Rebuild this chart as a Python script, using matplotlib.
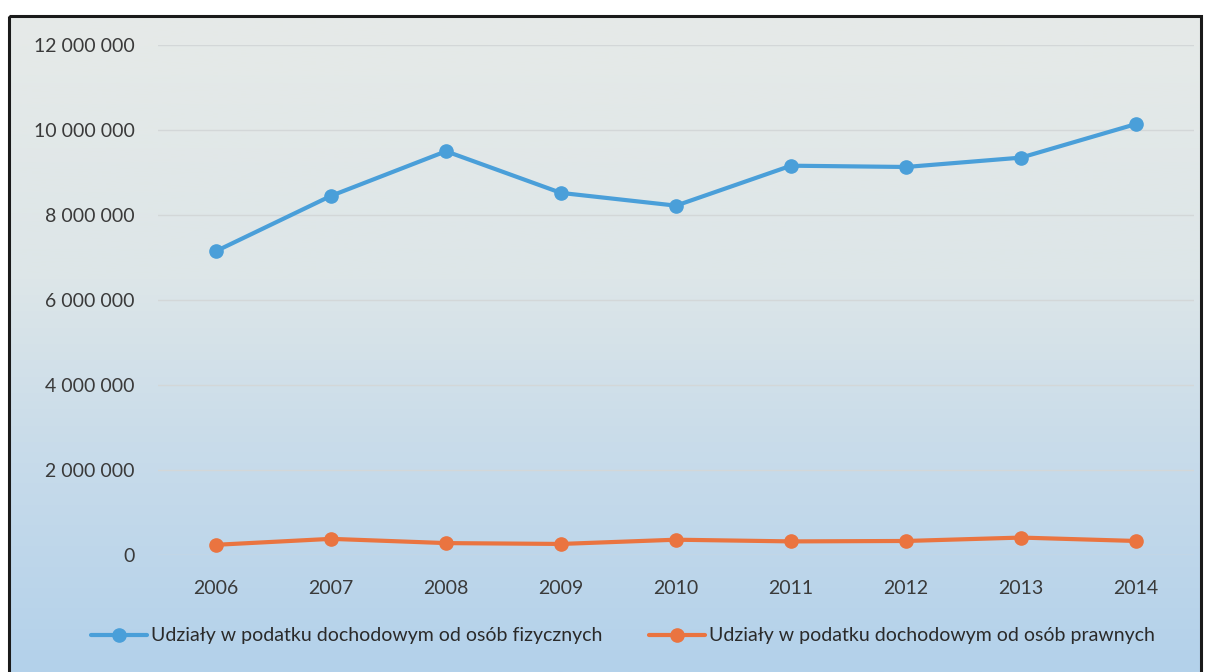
import numpy as np
import matplotlib
matplotlib.use("Agg")
import matplotlib.pyplot as plt
from matplotlib.colors import LinearSegmentedColormap
from matplotlib.patches import Rectangle

plt.rcParams['font.family'] = ['Lato', 'DejaVu Sans']

years = ["2006", "2007", "2008", "2009", "2010", "2011", "2012", "2013", "2014"]
pit = [7150000, 8450000, 9500000, 8520000, 8220000, 9160000, 9130000, 9350000, 10140000]
cit = [240000, 380000, 280000, 260000, 360000, 320000, 330000, 410000, 330000]
series_names = ["Udziały w podatku dochodowym od osób fizycznych",
                "Udziały w podatku dochodowym od osób prawnych"]
yticks = [0, 2000000, 4000000, 6000000, 8000000, 10000000, 12000000]

W, H = 1212, 672
fig = plt.figure(figsize=(W / 100, H / 100), dpi=100)
fig.patch.set_facecolor("white")

# background gradient inside the frame
bg = fig.add_axes([0, 0, 1, 1], zorder=0)
bg.set_xlim(0, W)
bg.set_ylim(H, 0)
bg.axis("off")
cmap = LinearSegmentedColormap.from_list(
    "g", [(0.0, "#e6eae8"), (0.4, "#dde6e8"), (0.65, "#c9dcea"), (1.0, "#b3d1eb")])
grad = np.linspace(0, 1, 256).reshape(-1, 1)
bg.imshow(grad, cmap=cmap, aspect="auto", extent=[9, 1201, H, 16], zorder=0)
bg.add_patch(Rectangle((9, 16), 1192, H + 20, fill=False, edgecolor="#1a1a1a", lw=2.2, zorder=2))

ax = fig.add_axes([158.5 / W, 1 - 555 / H, 1035 / W, 510 / H], zorder=1)
ax.patch.set_alpha(0)
x = np.arange(len(years))
ax.plot(x, pit, color="#4a9fd9", lw=3.0, marker="o", ms=9.5, label=series_names[0], solid_capstyle="round")
ax.plot(x, cit, color="#ea7440", lw=3.0, marker="o", ms=9.5, label=series_names[1], solid_capstyle="round")

ax.set_xlim(-0.5, len(years) - 0.5)
ax.set_ylim(0, 12000000)
ax.set_yticks(yticks)
ax.set_yticklabels([f"{v:,}".replace(",", " ") for v in yticks])
ax.set_xticks(x)
ax.set_xticklabels(years)
ax.tick_params(axis="both", length=0, colors="#3a3a3a", labelsize=14)
ax.tick_params(axis="y", pad=17)
ax.tick_params(axis="x", pad=18)
for s in ax.spines.values():
    s.set_visible(False)
ax.grid(axis="y", color="#d3d7d8", lw=1.0)
ax.set_axisbelow(True)

fig.legend(loc="center", bbox_to_anchor=(0.514, 1 - 636 / H), ncol=2, frameon=False,
           fontsize=14, handlelength=2.9, handletextpad=0.2, columnspacing=2.4,
           labelcolor="#2a2a2a")

fig.savefig("out.png", dpi=100)
